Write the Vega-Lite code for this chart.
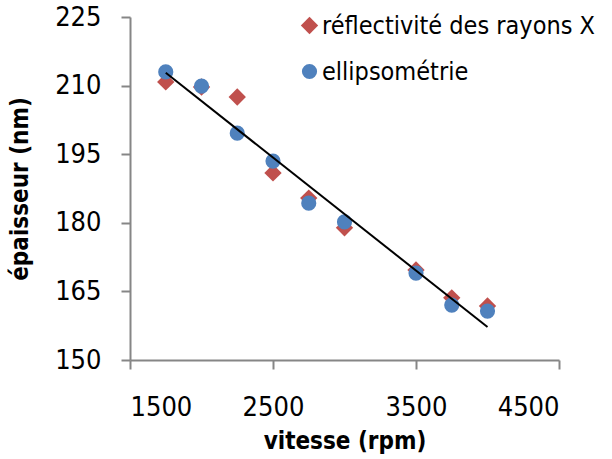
{
  "$schema": "https://vega.github.io/schema/vega-lite/v6.json",
  "autosize": "none",
  "width": 429,
  "height": 343,
  "padding": {"left": 130, "top": 17, "right": 53, "bottom": 99},
  "background": "white",
  "config": {
    "view": {"stroke": null},
    "font": "DejaVu Sans Condensed, Liberation Sans",
    "axis": {
      "grid": false,
      "domainColor": "#868686",
      "domainWidth": 2,
      "tickColor": "#868686",
      "tickWidth": 2,
      "tickSize": 9,
      "labelFont": "DejaVu Sans Condensed, Liberation Sans",
      "labelFontSize": 27,
      "labelColor": "#000000",
      "titleFont": "DejaVu Sans Condensed, Liberation Sans",
      "titleFontSize": 24,
      "titleFontWeight": "bold",
      "titleColor": "#000000"
    }
  },
  "datasets": {
    "pts": [
      {"vitesse": 1750, "epaisseur": 210.8, "methode": "réflectivité des rayons X"},
      {"vitesse": 2000, "epaisseur": 209.7, "methode": "réflectivité des rayons X"},
      {"vitesse": 2250, "epaisseur": 207.5, "methode": "réflectivité des rayons X"},
      {"vitesse": 2500, "epaisseur": 190.9, "methode": "réflectivité des rayons X"},
      {"vitesse": 2750, "epaisseur": 185.4, "methode": "réflectivité des rayons X"},
      {"vitesse": 3000, "epaisseur": 178.9, "methode": "réflectivité des rayons X"},
      {"vitesse": 3500, "epaisseur": 169.7, "methode": "réflectivité des rayons X"},
      {"vitesse": 3750, "epaisseur": 163.6, "methode": "réflectivité des rayons X"},
      {"vitesse": 4000, "epaisseur": 161.8, "methode": "réflectivité des rayons X"},
      {"vitesse": 1750, "epaisseur": 213.0, "methode": "ellipsométrie"},
      {"vitesse": 2000, "epaisseur": 209.9, "methode": "ellipsométrie"},
      {"vitesse": 2250, "epaisseur": 199.6, "methode": "ellipsométrie"},
      {"vitesse": 2500, "epaisseur": 193.5, "methode": "ellipsométrie"},
      {"vitesse": 2750, "epaisseur": 184.3, "methode": "ellipsométrie"},
      {"vitesse": 3000, "epaisseur": 180.2, "methode": "ellipsométrie"},
      {"vitesse": 3500, "epaisseur": 169.0, "methode": "ellipsométrie"},
      {"vitesse": 3750, "epaisseur": 162.0, "methode": "ellipsométrie"},
      {"vitesse": 4000, "epaisseur": 160.7, "methode": "ellipsométrie"}
    ],
    "fit": [
      {"vitesse": 1750, "epaisseur": 212.8},
      {"vitesse": 4000, "epaisseur": 157.2}
    ]
  },
  "layer": [
    {
      "data": {"name": "pts"},
      "mark": {"type": "point", "filled": true, "opacity": 1},
      "encoding": {
        "x": {
          "field": "vitesse", "type": "quantitative",
          "scale": {"domain": [1500, 4500], "nice": false, "zero": false},
          "axis": {"values": [1500, 2500, 3500, 4500], "title": "vitesse (rpm)", "labelPadding": 25, "titlePadding": 9, "format": "d"}
        },
        "y": {
          "field": "epaisseur", "type": "quantitative",
          "scale": {"domain": [150, 225], "nice": false, "zero": false},
          "axis": {"values": [150, 165, 180, 195, 210, 225], "title": "épaisseur (nm)", "labelPadding": 20, "titlePadding": 22}
        },
        "color": {
          "field": "methode", "type": "nominal",
          "scale": {"domain": ["réflectivité des rayons X", "ellipsométrie"], "range": ["#C0504D", "#4F81BD"]},
          "legend": {
            "title": null,
            "orient": "none",
            "legendX": 167,
            "legendY": -4,
            "labelFontSize": 25,
            "labelFont": "DejaVu Sans Condensed, Liberation Sans",
            "symbolSize": 170,
            "rowPadding": 20,
            "labelOffset": 0,
            "labelLimit": 400,
            "encode": {
              "labels": {"update": {"fill": {"signal": "datum.value === 'ellipsométrie' ? '#4F81BD' : '#C0504D'"}}}
            }
          }
        },
        "shape": {
          "field": "methode", "type": "nominal",
          "scale": {"domain": ["réflectivité des rayons X", "ellipsométrie"], "range": ["diamond", "circle"]}
        },
        "size": {
          "field": "methode", "type": "nominal",
          "scale": {"domain": ["réflectivité des rayons X", "ellipsométrie"], "range": [300, 230]},
          "legend": null
        }
      }
    },
    {
      "data": {"name": "fit"},
      "mark": {"type": "line", "color": "#000000", "strokeWidth": 2},
      "encoding": {
        "x": {"field": "vitesse", "type": "quantitative"},
        "y": {"field": "epaisseur", "type": "quantitative"}
      }
    }
  ]
}
